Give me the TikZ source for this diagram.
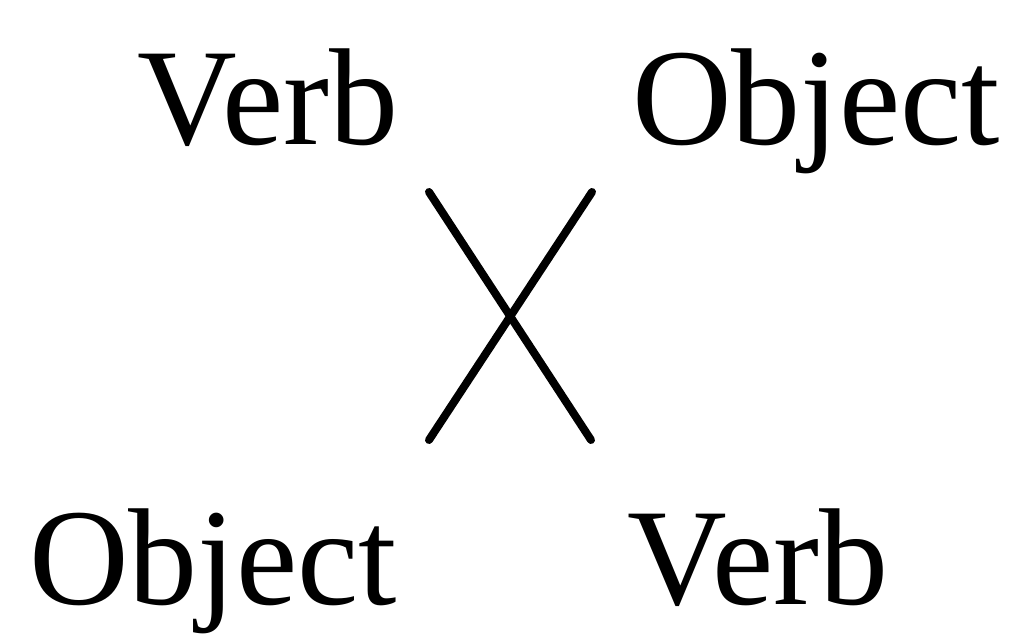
\documentclass[tikz,border=0pt]{standalone}
\usepackage{fontspec}
\setmainfont{Liberation Serif}
\usepackage{tikz}
\usetikzlibrary{positioning}

\begin{document}
\begin{tikzpicture}[
    x=0.5pt, y=-0.5pt,
    every node/.style={font=\fontsize{69}{80}\selectfont},
    word/.style={anchor=base, inner sep=0pt},
    cross/.style={line width=4pt, line cap=round}
]
    \useasboundingbox (0, 0) rectangle (1011, 635);

    % Words
    \node[word] (verbTop) at (268, 145) {Verb};
    \node[word] (objTop) at (816, 145) {Object};
    \node[word] (objBot) at (213, 604) {Object};
    \node[word] (verbBot) at (758, 604) {Verb};

    % Crossing lines
    \coordinate (tl) at (429, 192);
    \coordinate (tr) at (592, 192);
    \coordinate (bl) at (429, 440);
    \coordinate (br) at (591, 440);

    \draw[cross] (tl) -- (br);
    \draw[cross] (tr) -- (bl);

\end{tikzpicture}
\end{document}
